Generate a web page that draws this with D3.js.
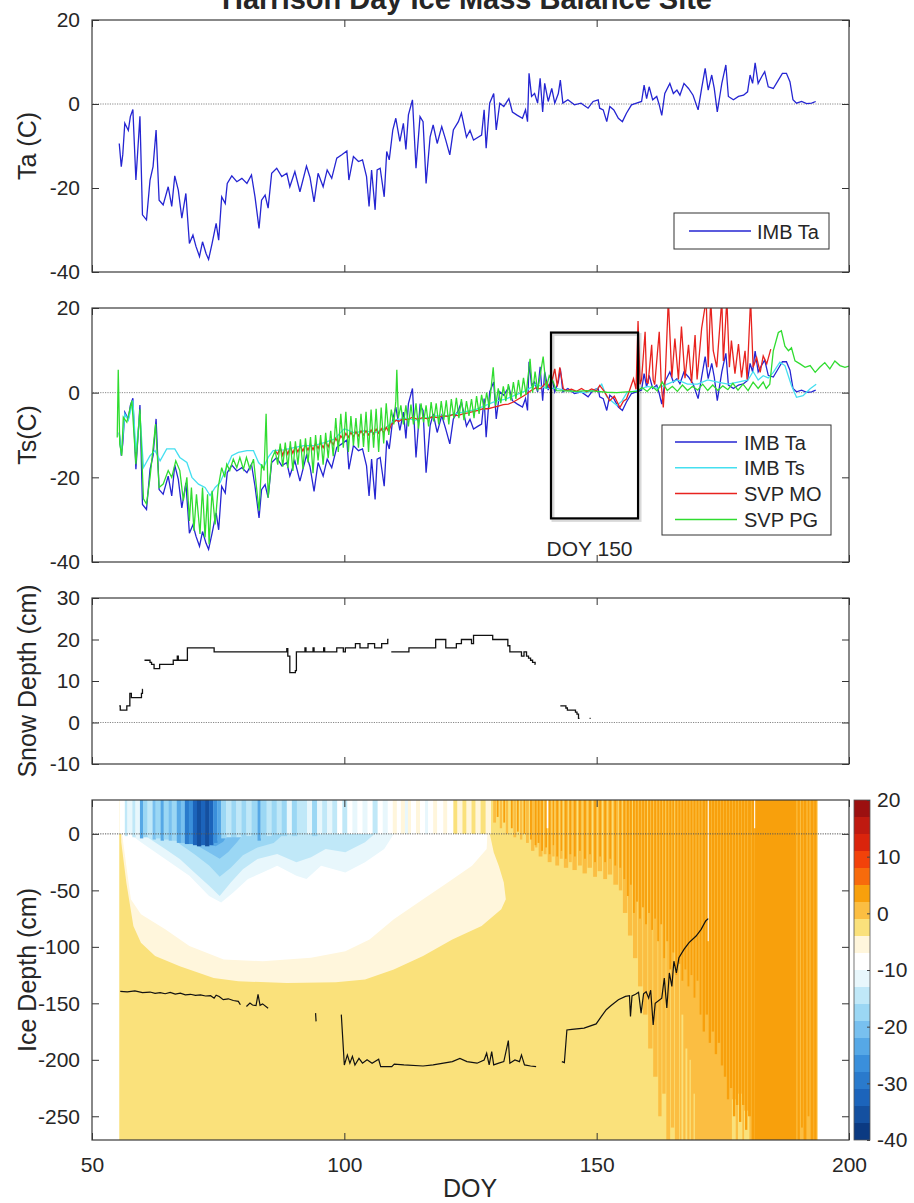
<!DOCTYPE html>
<html><head><meta charset="utf-8">
<script src="https://cdn.jsdelivr.net/npm/d3@7"></script>
<style>
body{margin:0;background:#fff;}
svg text{font-family:"Liberation Sans",Arial,Helvetica,sans-serif;fill:#262626;}
</style></head><body>
<svg id="chart" width="914" height="1203"></svg>
<script>
// ---------------- DATA ----------------
const title = "Harrison Day Ice Mass Balance Site";
const doyTicks = [50,100,150,200];
const taTicks = [-40,-20,0,20];
const snowTicks = [-10,0,10,20,30];
const iceTicks = [-250,-200,-150,-100,-50,0];
const cbTicks = [-40,-30,-20,-10,0,10,20];
const seriesNames = ["IMB Ta","IMB Ts","SVP MO","SVP PG"];
const seriesColors = ["#2525d2","#45dff0","#e8231f","#30dc30"];

// IMB air temperature [DOY, degC]
const imbTa = [[55.4,-9.4],[55.8,-14.9],[56.1,-12],[56.5,-4.6],[57.2,-6.3],[57.6,-3],[58.1,-1.3],[58.7,-18.1],[59.5,-2.9],[60.0,-26.4],[60.8,-27.6],[61.5,-18.1],[62.1,-14.9],[62.7,-6.2],[63.3,-22.9],[64.1,-24.0],[65.1,-19.7],[65.8,-24.4],[66.4,-17.1],[67.1,-20.5],[67.8,-27.2],[68.6,-21.3],[69.3,-33.2],[70.0,-31.2],[70.6,-33.9],[71.3,-36.3],[71.9,-32.8],[72.6,-35.6],[73.1,-37.0],[73.8,-33.2],[74.6,-28.4],[75.1,-32.4],[75.7,-22.1],[76.4,-23.7],[76.8,-18.9],[77.7,-17.1],[78.7,-18.5],[79.7,-17.7],[80.7,-18.9],[81.6,-16.9],[82.3,-22.1],[83.1,-29.6],[83.6,-22.9],[84.3,-21.7],[84.9,-24.8],[85.6,-16.5],[86.6,-15.3],[87.6,-17.3],[88.6,-16.5],[89.2,-19.7],[90.2,-16.1],[91.2,-20.9],[92.5,-14.8],[93.2,-17.5],[94.0,-23.3],[94.8,-16.5],[95.8,-19.7],[96.6,-15.7],[97.5,-17.7],[98.5,-12.9],[99.5,-12.1],[100.5,-11.2],[100.9,-18.1],[101.8,-12.5],[102.8,-13.7],[103.6,-13.3],[104.4,-17.3],[104.9,-24.4],[105.4,-15.7],[106.1,-25.2],[106.5,-15.7],[107.1,-15.3],[107.9,-22.1],[108.4,-11.3],[108.9,-13.3],[109.6,-6.2],[110.2,-3.4],[111.0,-8.9],[111.7,-4.6],[112.2,-10.8],[112.7,-2.6],[113.5,1.0],[114.2,-15.3],[115.0,-3.0],[115.6,-4.2],[116.2,-18.9],[117.0,-7.8],[117.6,-5.0],[118.4,-9.4],[119.3,-5.4],[120.1,-8.6],[120.9,-12.1],[121.6,-6.2],[122.6,-4.2],[123.2,-2.2],[124.2,-7.9],[124.9,-6.3],[125.6,-8.6],[126.5,-7.9],[127.2,-7.4],[127.7,-1.4],[128.1,-10.5],[128.8,0.2],[129.6,2.5],[130.1,-6.2],[130.8,0.2],[131.6,-0.6],[132.6,1.3],[133.3,-1.9],[134.3,-2.7],[135.3,-3.4],[135.9,-1.4],[136.3,-4.2],[136.6,7.3],[137.1,1.8],[137.7,2.5],[138.3,0.2],[138.8,6.1],[139.3,-1.9],[139.7,4.9],[140.4,0.6],[141.1,3.7],[141.7,0.2],[142.4,2.5],[142.8,5.7],[143.3,0.2],[144.3,1.0],[145.6,-0.2],[146.9,0.2],[148.3,-1.0],[149.3,0.6],[150.3,1.0],[150.6,-1.0],[151.3,-1.4],[152.0,-4.2],[152.6,-0.6],[153.4,-1.4],[154.3,-3.4],[155.1,-4.2],[155.9,-2.2],[156.9,-0.2],[157.9,0.2],[158.9,0.6],[159.4,4.5],[159.9,1.3],[160.4,4.1],[161.1,1.0],[161.9,1.8],[162.4,-0.2],[162.9,-2.7],[163.5,2.5],[164.5,4.9],[165.2,2.5],[165.9,3.3],[166.5,2.1],[167.3,4.9],[168.2,3.7],[169.1,2.1],[170.1,-1.4],[170.8,3.7],[171.5,8.5],[172.1,3.3],[172.8,6.9],[173.3,3.7],[173.9,-1.9],[174.8,4.9],[175.6,9.3],[176.1,1.8],[177.1,1.0],[178.1,1.8],[179.1,2.1],[179.9,2.9],[180.4,6.9],[180.9,4.9],[181.4,9.8],[182.0,4.9],[182.7,6.5],[183.3,7.7],[184.0,4.1],[185.0,3.7],[186.0,5.7],[186.8,7.3],[187.6,7.3],[188.3,5.3],[188.9,1.0],[189.6,0.2],[190.6,0.6],[191.6,0.1],[192.6,0.2],[193.4,0.6]];

// IMB surface temperature
const imbTs = [[55.4,-9.6],[55.8,-14.5],[56.5,-5],[57.2,-6.5],[58.1,-1.8],[58.7,-14],[59.5,-5],[60.2,-17.7],[61.5,-14.9],[62.5,-13.7],[63.5,-16.1],[64.8,-13.3],[66.4,-13.3],[67.4,-15.3],[68.8,-16.5],[69.8,-20.0],[71.1,-21.6],[72.4,-22.4],[73.4,-24.3],[74.4,-22.4],[75.4,-21.2],[76.4,-18.4],[77.7,-14.9],[79.0,-14.1],[80.7,-13.7],[82.0,-13.7],[83.0,-16.5],[84.0,-17.7],[84.9,-15.3],[85.9,-13.7],[88,-13.5],[90,-13],[92,-12.5],[94,-12.5],[96,-11.8],[98,-11],[100,-8.5],[102,-9.5],[104,-9],[106,-9.5],[108,-8.5],[110,-6.5],[112,-6],[114,-6.5],[116,-6],[118,-5.5],[120,-5.5],[122,-5],[124,-4.5],[126,-4],[128,-3],[130,-2],[132,-1.5],[134,-0.5],[136,0.5],[138,2],[140,1],[142,1],[144,0.5],[146,0.2],[148,0],[150,0.8],[151,2],[152,-1],[153,-2],[154,-3],[155,-2],[156,0],[158,0.5],[160,1.5],[162,1],[164,2],[166,3],[168,2],[170,2],[172,3],[174,2.5],[176,2],[178,2.5],[180,3],[181,5],[182,3],[183,4],[184,3.5],[185,4.8],[186.3,7.2],[187.3,6.4],[188.6,1.7],[189.6,-1.1],[190.9,-0.7],[192.3,0.9],[193.5,2.0]];

// SVP MO
const svpMO = [[86.3,-13.7],[86.8,-14.5],[87.3,-13],[87.8,-14.8],[88.3,-13],[88.8,-14.5],[89.3,-12.8],[89.8,-14.3],[90.3,-12.7],[90.8,-14],[91.3,-12.6],[91.8,-13.8],[92.3,-12.3],[92.8,-13.6],[93.3,-12.2],[93.8,-13.5],[94.3,-12],[94.8,-13.2],[95.3,-11.8],[95.8,-13],[96.3,-11.6],[96.8,-12.8],[97.3,-11.3],[97.8,-12.3],[98.3,-10.8],[98.8,-11.8],[99.3,-10.2],[99.8,-11],[100.3,-9.6],[100.8,-10.5],[101.3,-9.4],[101.8,-10.4],[102.3,-9.2],[102.8,-10.2],[103.3,-9],[103.8,-10],[104.3,-9],[104.8,-10],[105.3,-8.8],[105.8,-9.8],[106.3,-8.6],[106.8,-9.6],[107.3,-8.5],[107.8,-9.5],[108.3,-8.2],[108.8,-9.2],[109.3,-7.5],[109.8,-7],[110.3,-6.5],[110.8,-6.8],[111.5,-6.2],[112.5,-6.4],[113.5,-5.8],[114.5,-6.3],[115.5,-5.9],[116.5,-6.2],[117.5,-5.7],[118.5,-5.9],[119.5,-5.5],[120.5,-5.6],[121.5,-5.2],[122.5,-5.4],[123.5,-5.0],[124.5,-4.8],[125.5,-4.5],[126.5,-4.2],[127.5,-3.8],[128.5,-3.8],[129.5,-3.5],[130.5,-3.2],[131.5,-2.8],[132.5,-2.7],[133.5,-2.2],[134.5,-1.5],[135.5,-0.8],[136.1,-0.3],[137,0.5],[138,1.2],[138.8,0.9],[140.1,2.5],[140.8,1],[141.7,5.6],[142.2,1.5],[142.7,6.0],[143.4,0.9],[144,0.5],[145,0.8],[146,0.3],[147,1.0],[148,0.2],[149,0.9],[150,0.4],[150.6,1.7],[151.5,0.3],[152.6,-1.9],[153.5,-0.8],[154.6,-3.5],[155.3,-2],[155.9,-1.5],[156.5,0.5],[157.3,3.3],[157.8,0.8],[158.2,16.9],[158.6,2],[158.9,3.1],[159.6,14.4],[159.9,2.5],[160.2,2.3],[160.9,11.3],[161.2,3],[161.5,1.9],[162.4,14.4],[162.8,2],[163.2,-3.5],[163.6,4],[164.2,22],[164.9,3.6],[165.5,12.8],[166.2,3.1],[166.8,15.6],[167.5,3.4],[168.2,11.3],[168.8,2.3],[169.5,13.6],[169.9,3.1],[170.8,15.2],[171.7,22],[172.1,6.0],[172.6,22],[173.1,9.9],[173.8,6.0],[174.8,22],[175.1,7.5],[175.8,22],[176.3,6.0],[176.7,12.3],[177.4,4.5],[178.1,11.5],[178.7,3.6],[179.4,9.9],[179.8,3.1],[180.5,22],[181.0,6.0],[181.7,8.3],[182.4,4.8],[183.0,8.7],[183.7,6.8],[184.5,10.3]];

// SVP PG
const svpPG = [[55.0,-10.6],[55.2,5.4],[55.5,-12.1],[55.9,-14.9],[56.2,-5.8],[56.9,-7.0],[57.9,-1.9],[58.7,-16.9],[59.5,-3.9],[60.2,-25.1],[60.8,-26.3],[61.5,-20.0],[62.6,-7.4],[63.3,-22.4],[64.1,-21.6],[65.1,-18.4],[65.8,-20.0],[66.6,-16.1],[67.4,-18.4],[68.1,-25.5],[68.8,-20.0],[69.3,-30.3],[69.7,-22.4],[70.2,-32.6],[70.7,-24.0],[71.4,-33.4],[71.9,-22.4],[72.4,-34.2],[72.9,-24.0],[73.2,-35.8],[73.8,-23.2],[74.4,-31.1],[75.0,-22.4],[75.7,-17.7],[76.3,-20.0],[76.7,-16.9],[77.3,-18.4],[78.0,-15.7],[78.7,-17.7],[79.3,-15.3],[80.0,-18.1],[80.6,-15.3],[81.3,-18.1],[82.0,-15.7],[82.6,-22.4],[83.1,-27.9],[83.6,-16.9],[84.1,-18.4],[84.5,-5.0],[84.9,-24.8],[85.6,-15.7],[86.3,-13.7],[86.8,-17],[87.3,-12],[87.8,-17.5],[88.3,-11.8],[88.8,-17.8],[89.3,-11.5],[89.8,-18.5],[90.3,-11.5],[90.8,-17],[91.3,-11],[91.8,-18],[92.3,-10.8],[92.8,-16.5],[93.3,-10.5],[93.8,-19],[94.3,-10],[94.8,-16],[95.3,-10],[95.8,-17],[96.3,-9.5],[96.8,-15.5],[97.3,-9],[97.8,-15],[98.3,-6],[98.8,-14],[99.3,-5],[99.8,-13],[100.3,-4.5],[100.8,-14],[101.3,-5.5],[101.8,-12.5],[102.3,-6],[102.8,-13],[103.3,-5],[103.8,-12.8],[104.3,-4.5],[104.8,-14],[105.3,-4],[105.8,-13],[106.3,-3.8],[106.8,-14],[107.3,-3.5],[107.8,-12],[108.3,-2.5],[108.8,-10],[109.3,-4],[109.8,-7.5],[110.2,-2],[110.4,5.4],[110.7,-6],[111.2,-3],[111.7,-7.5],[112.2,-3],[112.7,-8],[113.2,-2.8],[113.7,-7.5],[114.2,-2.5],[114.7,-8.5],[115.2,-2.5],[115.7,-7],[116.2,-3],[116.7,-8],[117.2,-2.2],[117.7,-6.8],[118.2,-2.5],[118.7,-7.5],[119.2,-2],[119.7,-6.5],[120.2,-1.8],[120.7,-7.5],[121.2,-1.5],[121.7,-6],[122.2,-1.2],[122.7,-6],[123.2,-1.5],[123.7,-6.5],[124.2,-2],[124.7,-5.5],[125.2,-1.5],[125.7,-6],[126.2,-0.8],[126.7,-5],[127.2,-0.5],[127.7,-4],[128.2,0],[128.7,-3.5],[129.5,6.0],[130,-3],[130.5,1],[131,-2.5],[131.5,1.5],[132,-2],[132.5,2],[133,-1.8],[133.5,2.5],[134,-1.5],[134.5,3],[135,-1],[135.5,3.5],[136,-0.5],[136.8,8.0],[137.3,0],[137.8,5],[138.3,0.5],[138.8,4],[139.4,8.5],[140,1],[140.6,4],[141.4,2.5],[142,0.5],[144,0.4],[146,0.3],[148,0.5],[150,0.3],[152,0.1],[154,0],[156,0.2],[158,0.3],[159,1.2],[160,0.3],[161,1.5],[162,0.4],[163,2.5],[164,0.5],[165,1.5],[166,0.3],[167,1.8],[168,0.5],[169,1.5],[170,0.6],[171,2],[172,0.5],[173,1.8],[174,0.5],[175,1.6],[176,0.7],[177,2.2],[178,0.6],[179,2.0],[180,0.5],[181,2.5],[182,1.0],[183,2.5],[183.6,1.0],[184.3,2.0],[185.0,9.9],[186.0,14.2],[186.6,14.6],[187.3,11.0],[188.0,9.9],[188.6,10.6],[189.3,7.5],[190.3,6.8],[191.3,6.0],[192.3,6.4],[193.3,4.8],[194.2,6.0],[195.2,7.1],[196.2,5.6],[197.2,7.5],[198.2,6.4],[199.2,6.0],[200,6.3]];

// DOY 150 annotation box [doy0, doy1, tTop, tBottom]
const annotBox = [140.95, 158.2, 14.2, -29.7];
const annotLabel = "DOY 150";

// snow depth [DOY, cm], null = gap
const snowDepth = [[55.4,4],[55.6,3],[56.9,4],[57.5,7],[57.8,6],[59.8,7],[60.0,8],[60.05,8],null,
[60.4,15],[61.5,14.5],[61.8,14],[62.3,13],[63.4,14],[66.1,15],[66.9,16],[67.1,15],[68.9,18],[74.2,17],[88.4,17],[88.6,17.8],[88.8,16],[89.2,12],[90.3,12.5],[90.5,17],[92.2,18],[92.4,17],[93.8,18],[94.0,17],[95.9,18],[96.1,17],[98.5,18],[99.8,17],[100.2,18],[102.2,19],[103.1,18],[104.7,19],[106.0,18],[107.4,19],[108.6,20],[108.75,20],null,
[109.3,17],[112.8,18],[118.1,20],[120.1,18],[122.2,19],[123.2,20],[125.2,19],[125.6,21],[129.4,20],[132.4,18.5],[132.8,17],[135.1,16],[135.6,17],[136.1,16],[136.5,15.5],[136.9,15],[137.3,14.5],[137.8,14],[137.85,14],null,
[142.8,4],[143.9,3.5],[144.2,3],[145.8,2.5],[146.1,2],[146.4,1],[146.6,1],null,
[148.6,1],[148.8,1]];

// ice bottom line [DOY, cm]
const iceBottom = [[55.6,-139.4],[57,-139.8],[58.5,-139],[60,-140.5],[61.5,-140],[62.5,-141.2],[63.5,-140.6],[64.5,-141.5],[65.5,-140.3],[66.5,-141.8],[67.5,-141],[68.5,-142.5],[69.5,-142],[70.5,-143],[71.5,-142.6],[72.5,-143.5],[73.5,-143.2],[74.2,-145.4],[74.6,-142.8],[75.2,-144],[76,-146.8],[77,-146],[78,-147.5],[79,-148.3],[79.4,-151.3],null,
[80.6,-152.8],[81.3,-149.8],[81.8,-151.5],[82.5,-152],[82.9,-142],[83.3,-151.8],[83.8,-150.5],[84.9,-154.3],null,
[94.3,-158.7],[94.4,-166],null,
[99.4,-160],[100.0,-204.6],[100.6,-195.7],[101.1,-203],[101.6,-197],[102.1,-204.6],[102.9,-198.7],[103.6,-203],[104.5,-200],[105.5,-203],[106.8,-199.5],[107.2,-206],[109.4,-206],[109.9,-203.8],[111.8,-204.5],[115.6,-205.5],[117.6,-204.5],[121.4,-201.6],[122.9,-198.7],[124.3,-201.6],[126.3,-203],[127.7,-200.2],[128.2,-194.2],[128.7,-204.5],[129.2,-192.8],[129.6,-204.5],[130.6,-203],[131.6,-201.6],[132.5,-183],[132.8,-203],[133.8,-200.2],[134.7,-201.6],[135.1,-195.7],[135.7,-204.5],[136.9,-205.5],[138.0,-206],null,
[143.1,-201.6],[143.6,-202.5],[144.1,-173.6],[145.1,-173],[147.5,-172],[149.9,-168.2],[150.9,-161.7],[151.9,-155.7],[152.8,-152.2],[154.3,-146.8],[155.7,-143.9],[156.5,-143.3],[156.7,-161.7],[157.0,-143.5],[157.7,-142],[158.3,-140.3],[158.8,-158.7],[159.3,-141.5],[159.8,-139.8],[160.3,-145.4],[160.7,-138.4],[161.2,-169.1],[161.6,-150],[162.9,-145.4],[163.4,-127.6],[163.9,-154.2],[164.4,-123.1],[164.9,-135],[165.3,-112.7],[165.8,-123],[166.3,-109.7],[167.3,-102.3],[168.3,-96.3],[169.7,-90.4],[170.7,-84.5],[171.6,-77.1],[172.1,-75]];

// colour scale: band edges (degC) and band colours
const levelEdges = [-40,-37,-34,-31,-28,-25,-22,-19,-16,-13,-10,-7,-4,-1,2,5,8,11,14,17,20];
const levelColors = ["#0b3a82","#1450a0","#1c64bb","#2a7acc","#3a8fdb","#56a8e6","#78c0ef","#9bd7f4","#c0e8f8","#e8f7fc","#ffffff","#fff6dc","#fae17b","#fbbe42","#f8a00c","#f76b0c","#f2420a","#da240c","#bf1a10","#9c1010"];

// ice temperature field
const iceDoyRange = [55.4, 193.7];
const iceBaseTemp = -2.5;
// nested cold-region contours: temperature, boundary [DOY, depth]
const coldContours = [
 {t:-5.5, pts:[[55.6,30],[55.8,-7.4],[56.8,-43],[58.2,-81.5],[59.7,-96.4],[62.5,-108.2],[67.4,-117.1],[74.1,-127.5],[79,-130.5],[88.6,-132],[98.3,-131.4],[104.1,-129],[109.8,-120],[115.6,-108.2],[121.4,-93.4],[127.2,-81.5],[131.1,-66.7],[132,-57.8],[131.6,-43],[130.6,-28.2],[129.6,-16.3],[128.9,-1.5],[128.9,30]]},
 {t:-8.5, pts:[[56.0,30],[56.0,-1.5],[56.8,-28.2],[57.7,-57.8],[59.7,-71.2],[64.5,-84.5],[69.3,-99.3],[76.1,-111.2],[83.8,-112.7],[93.4,-109.7],[100.2,-103.8],[105,-93.4],[109.8,-75.6],[115.6,-57.8],[120.5,-43],[125.3,-28.2],[128.2,-13.3],[128.7,30]]},
 {t:-11.5, pts:[[57.5,0],[59.7,-7.4],[64.5,-22.2],[69.3,-37.1],[73.2,-55],[75.6,-60.8],[78,-51.9],[80.9,-40],[83.8,-34.1],[86.7,-28.2],[90.5,-37.1],[92.5,-40],[95.4,-28.2],[100.2,-34.1],[104.1,-25.2],[107.9,-13.3],[109.8,0]]},
 {t:-14.5, pts:[[60,0],[64.5,-13.3],[67.4,-22.2],[70.3,-34.1],[73.2,-46],[75.3,-55],[77.5,-43],[79.9,-31.2],[82.8,-22.2],[86.7,-17.8],[90.5,-25.2],[93.4,-20.7],[96.3,-13.3],[100.2,-16.3],[104.1,-7.4],[106,0]]},
 {t:-17.5, pts:[[65.5,0],[67.4,-9],[70.3,-18],[73.2,-28],[75.3,-38],[77.5,-30],[79.9,-19],[82.8,-12],[86,-8],[88,0]]},
 {t:-20.5, pts:[[67,0],[69,-6],[71.5,-12],[73.8,-18],[75.3,-22],[77,-16],[78.8,-7],[80,0]]},
 {t:-23.5, pts:[[68,0],[70,-4],[72.5,-9],[74.5,-11],[76,-7],[77,0]]},
 {t:-26.5, pts:[[69,0],[71,-3],[73,-6],[75,-4],[76,0]]}
];
// near-surface stripes: [doyStart, doyEnd, bottomDepth, temperature]
const surfaceStripes = [[55.4,56.5,0,-9],[56.5,57.0,-2,-14],[57.0,58.0,0,-11],[58.0,58.6,-3,-16],[58.6,59.5,-1,-12],[59.5,60.1,-4,-24],[60.1,61.0,-3,-17],[61.0,62.0,-2,-14],[62.0,62.6,-5,-22],[62.6,63.6,-4,-17],[63.6,64.2,-6,-24],[64.2,65.2,-5,-18],[65.2,65.8,-6,-22],[65.8,66.8,-6,-18],[66.8,67.6,-8,-24],[67.6,68.4,-8,-22],[68.4,69.2,-9,-29],[69.2,70.0,-9,-27],[70.0,70.8,-10,-33],[70.8,71.6,-11,-37],[71.6,72.4,-10,-33],[72.4,73.2,-11,-37],[73.2,74.0,-10,-32],[74.0,74.8,-8,-28],[74.8,75.6,-6,-25],[75.6,76.6,-4,-19],[76.6,77.6,-3,-16],[77.6,78.6,-3,-18],[78.6,79.6,-3,-15],[79.6,80.6,-2,-18],[80.6,81.6,-2,-15],[81.6,82.8,-3,-17],[82.8,83.4,-6,-25],[83.4,84.6,-4,-18],[84.6,85.6,-2,-15],[85.6,86.6,-2,-17],[86.6,87.6,0,-14],[87.6,88.6,-2,-18],[88.6,89.6,0,-13],[89.6,90.6,-2,-17],[90.6,91.6,0,-14],[91.6,92.6,-2,-16],[92.6,93.6,0,-13],[93.6,94.6,-2,-18],[94.6,95.6,0,-12],[95.6,96.6,0,-16],[96.6,97.6,0,-11],[97.6,98.6,0,-15],[98.6,99.6,0,-10],[99.6,100.6,0,-14],[100.6,101.6,0,-9],[101.6,102.6,0,-13],[102.6,103.6,0,-9],[103.6,104.6,0,-12],[104.6,105.6,0,-9],[105.6,106.6,0,-14],[106.6,107.6,0,-9],[107.6,108.6,0,-12],[108.6,109.6,0,-8],[109.6,110.4,0,-6],[110.4,111.2,0,-9],[111.2,112.0,0,-6],[112.0,112.6,0,-11],[112.6,113.2,0,-5],[113.2,114.2,0,-9],[114.2,115.0,0,-6],[115.0,116.0,0,-8],[116.0,116.6,0,-12],[116.6,117.6,0,-8],[117.6,118.4,0,-5],[118.4,119.6,0,-8],[119.6,120.4,0,-5],[120.4,121.6,0,-9],[121.6,122.4,0,-3],[122.4,123.4,0,-6],[123.4,124.2,0,-2],[124.2,125.2,0,-7],[125.2,126.0,0,-3],[126.0,127.0,0,-6],[127.0,128.0,0,-2],[128.0,129.0,0,-5]];
// warm streaks from the top: [doyStart, doyEnd, bottomDepth]
const lightOrangeStreaks = [[129.5,130.0,10],[130.8,131.2,5],[132,132.4,0],[133.5,134,-3],[134.8,135.2,-5],[136,136.5,-8],[137,137.6,-15],[137.8,138.2,-12],[138.5,139.2,-20],[139.5,140,-18],[140.3,141,-25],[141.2,141.6,-20],[141.8,142.5,-28],[142.7,143.2,-22],[143.5,144.3,-30],[144.5,145,-25],[145.2,146,-32],[146.3,147,-28],[147.2,148,-35],[148.2,149,-30],[149.3,150,-38],[150.2,151,-33],[151.3,152,-40],[152.2,153,-36],[153.3,154.2,-45],[154.4,155,-50],[155.2,156,-70],[156.2,157,-90],[157.2,158,-110],[158.2,159,-135],[159.2,160,-160],[160.2,161,-190],[161.2,162,-215],[162.2,162.8,-250],[163,163.6,-230],[163.8,164.5,-271],[164.7,165.3,-260],[165.5,166.3,-271],[166.5,193.7,-271]];
// yellow streaks inside the light-orange area: [doyStart, doyEnd, topDepth]
const yellowStreaks = [[166.8,167.1,-160],[167.6,167.9,-190],[168.4,168.6,-200],[169.2,169.4,-230],[176.8,177.5,-235],[178,178.8,-230],[179.2,180.2,-245]];
const orangeStreaks = [[130.2,130.5,15],[131.5,131.8,10],[133,133.3,5],[134.2,134.5,2],[135.5,135.8,0],[136.8,137.1,-5],[137.7,138,-10],[138.3,138.6,-8],[139,139.3,-15],[139.8,140.1,-12],[140.5,140.8,-18],[141.3,141.5,-10],[142,142.3,-20],[142.9,143.1,-15],[143.7,144,-22],[144.6,144.9,-18],[145.5,145.8,-20],[146.5,146.8,-15],[147.5,147.8,-22],[148.5,148.8,-18],[149.5,149.8,-25],[150.5,150.8,-20],[151.5,151.8,-25],[152.5,152.8,-22],[153.5,153.8,-28],[154.5,154.8,-30],[155.3,155.6,-40],[156,156.3,-55],[156.6,156.9,-45],[157.2,157.5,-70],[157.8,158.1,-60],[158.4,158.7,-75],[159,159.3,-65],[159.6,159.9,-80],[160.2,160.5,-70],[160.8,161.1,-85],[161.4,161.7,-75],[162,162.3,-95],[162.6,162.9,-80],[163.2,163.5,-110],[163.8,164.1,-95],[164.4,164.7,-120],[165,165.3,-105],[165.6,165.9,-125],[166.2,166.5,-115],[166.8,167.1,-130],[167.4,167.7,-120],[168,168.3,-135],[168.6,168.9,-125],[169.2,169.5,-145],[169.8,170.1,-130],[170.4,170.7,-160],[171,171.4,-175],[171.6,172,-160],[172.2,172.6,-185],[172.8,173.2,-175],[173.4,173.8,-195],[174,174.4,-185],[174.6,175,-205],[175.2,175.6,-215],[175.8,176.2,-235],[176.4,176.8,-225],[177,177.4,-250],[177.6,178,-240],[178.2,178.6,-255],[178.8,179.2,-240],[179.4,179.8,-262],[180,180.5,-250],[180.7,181.2,-271],[181.3,189.5,-271],[189.8,190.2,-271],[190.5,190.8,-260],[191,191.5,-271],[191.8,192.1,-250],[192.4,192.9,-271],[193.1,193.5,-271]];
const whiteStreaks = [[140.1,140.35,5],[172.0,172.15,-95],[181.2,181.35,5]];

// ---------------- DRAWING ----------------
const svg = d3.select("#chart");
const L = 92, R = 849;
const x = d3.scaleLinear().domain([50,200]).range([L,R]);
const yTa = d3.scaleLinear().domain([-40,20]).range([272,20]);
const yTs = d3.scaleLinear().domain([-40,20]).range([562,308]);
const ySn = d3.scaleLinear().domain([-10,30]).range([764,598]);
const yIce = d3.scaleLinear().domain([-271,30]).range([1140,800]);
const cbY = d3.scaleLinear().domain([-40,20]).range([1140,800]);
const tempColor = d3.scaleThreshold().domain(levelEdges.slice(1,-1)).range(levelColors);
const fmt = d => String(d);   // plain hyphen minus, as in the original

const defs = svg.append("defs");
function clip(id, y){
  const [b,t] = y.range();
  defs.append("clipPath").attr("id",id).append("rect").attr("x",L).attr("y",t).attr("width",R-L).attr("height",b-t);
}
clip("c1",yTa); clip("c2",yTs); clip("c3",ySn); clip("c4",yIce);

const tickStyle = s => { s.select(".domain").remove(); s.selectAll("line").attr("stroke","#333").attr("stroke-width",1);
   s.selectAll("text").attr("font-size",21).attr("font-family","Liberation Sans,Arial,sans-serif").attr("fill","#262626"); };
function frame(y, yTicks, xLabels){
  const [b,t] = y.range();
  const g = svg.append("g");
  g.append("g").attr("transform",`translate(${L},0)`).call(d3.axisLeft(y).tickValues(yTicks).tickSizeInner(-7).tickSizeOuter(0).tickPadding(12).tickFormat(fmt)).call(tickStyle);
  g.append("g").attr("transform",`translate(${R},0)`).call(d3.axisRight(y).tickValues(yTicks).tickSizeInner(-7).tickSizeOuter(0).tickFormat("")).call(tickStyle);
  g.append("g").attr("transform",`translate(0,${t})`).call(d3.axisTop(x).tickValues(doyTicks).tickSizeInner(-7).tickSizeOuter(0).tickFormat("")).call(tickStyle);
  g.append("g").attr("transform",`translate(0,${b})`).call(d3.axisBottom(x).tickValues(doyTicks).tickSizeInner(-7).tickSizeOuter(0).tickPadding(17).tickFormat(xLabels ? fmt : "")).call(tickStyle);
  g.append("rect").attr("x",L).attr("y",t).attr("width",R-L).attr("height",b-t).attr("fill","none").attr("stroke","#3a3a3a").attr("stroke-width",1.2);
}
function zeroLine(y, color){
  svg.append("line").attr("x1",L+1).attr("x2",R-1).attr("y1",y(0)).attr("y2",y(0))
    .attr("stroke",color).attr("stroke-width",1).attr("stroke-dasharray","1.2,1.2");
}
function yLabel(txt, y){
  const [b,t] = y.range();
  svg.append("text").attr("transform",`translate(36,${(b+t)/2}) rotate(-90)`).attr("text-anchor","middle")
    .attr("font-size",25).text(txt);
}
const lineGen = y => d3.line().defined(d => d !== null).x(d => x(d[0])).y(d => y(d[1]));

// title (top of it is outside the picture in the original as well)
svg.append("text").attr("x",467).attr("y",9).attr("text-anchor","middle").attr("font-size",29).attr("font-weight","bold").attr("fill","#111").text(title);

// ---- Panel 1: Ta
zeroLine(yTa,"#888");
svg.append("path").datum(imbTa).attr("clip-path","url(#c1)").attr("d",lineGen(yTa)).attr("fill","none").attr("stroke",seriesColors[0]).attr("stroke-width",1.3);
frame(yTa, taTicks, false);
yLabel("Ta (C)", yTa);
{ const lg = svg.append("g");
  lg.append("rect").attr("x",674).attr("y",213).attr("width",155).attr("height",36).attr("fill","#fff").attr("stroke","#333").attr("stroke-width",1);
  lg.append("line").attr("x1",689).attr("x2",751).attr("y1",231).attr("y2",231).attr("stroke",seriesColors[0]).attr("stroke-width",1.5);
  lg.append("text").attr("x",757).attr("y",238.5).attr("font-size",20).text(seriesNames[0]);
}

// ---- Panel 2: Ts
zeroLine(yTs,"#888");
const p2 = svg.append("g").attr("clip-path","url(#c2)");
[imbTa, imbTs, svpMO, svpPG].forEach((s,i) => {
  p2.append("path").datum(s).attr("d",lineGen(yTs)).attr("fill","none").attr("stroke",seriesColors[i]).attr("stroke-width",1.3);
});
frame(yTs, taTicks, false);
yLabel("Ts(C)", yTs);
svg.append("rect").attr("x",x(annotBox[0])+2).attr("y",yTs(annotBox[2])+2).attr("width",x(annotBox[1])-x(annotBox[0])).attr("height",yTs(annotBox[3])-yTs(annotBox[2]))
  .attr("fill","none").attr("stroke","#000").attr("stroke-opacity",0.15).attr("stroke-width",3);
svg.append("rect").attr("x",x(annotBox[0])).attr("y",yTs(annotBox[2])).attr("width",x(annotBox[1])-x(annotBox[0])).attr("height",yTs(annotBox[3])-yTs(annotBox[2]))
  .attr("fill","none").attr("stroke","#000").attr("stroke-width",2.2);
svg.append("text").attr("x",(x(annotBox[0])+x(annotBox[1]))/2 - 5).attr("y",556).attr("text-anchor","middle").attr("font-size",21)
  .attr("font-family","Open Sans, sans-serif").attr("fill","#000").text(annotLabel);
{ const lg = svg.append("g");
  lg.append("rect").attr("x",662).attr("y",425).attr("width",169).attr("height",110).attr("fill","#fff").attr("stroke","#333").attr("stroke-width",1);
  seriesNames.forEach((n,i) => {
    const cy = 442 + i*25.8;
    lg.append("line").attr("x1",675).attr("x2",737).attr("y1",cy).attr("y2",cy).attr("stroke",seriesColors[i]).attr("stroke-width",1.5);
    lg.append("text").attr("x",744).attr("y",cy+7.5).attr("font-size",20).text(n);
  });
}

// ---- Panel 3: snow depth
zeroLine(ySn,"#888");
svg.append("path").datum(snowDepth).attr("clip-path","url(#c3)").attr("d",lineGen(ySn).curve(d3.curveStepAfter)).attr("fill","none").attr("stroke","#111").attr("stroke-width",1.3);
frame(ySn, snowTicks, false);
yLabel("Snow Depth (cm)", ySn);

// ---- Panel 4: ice temperature
const hm = svg.append("g").attr("clip-path","url(#c4)");
hm.append("rect").attr("x",x(iceDoyRange[0])).attr("width",x(iceDoyRange[1])-x(iceDoyRange[0])).attr("y",yIce(30)).attr("height",yIce(-271)-yIce(30)).attr("fill",tempColor(iceBaseTemp));
coldContours.forEach(c => {
  hm.append("path").attr("d", lineGen(yIce)(c.pts)+"Z").attr("fill",tempColor(c.t));
});
function streaks(arr, tFn, fromTop){
  hm.append("g").selectAll("rect").data(arr).join("rect")
    .attr("x",d => x(d[0])).attr("width",d => Math.max(0.6, x(d[1])-x(d[0])+0.3))
    .attr("y",d => fromTop ? yIce(30) : yIce(d[2]))
    .attr("height",d => fromTop ? yIce(d[2]) - yIce(30) : yIce(-271) - yIce(d[2]))
    .attr("fill",d => tempColor(tFn(d)));
}
streaks(surfaceStripes, d => d[3], true);
streaks(lightOrangeStreaks, d => 0.5, true);
streaks(yellowStreaks, d => iceBaseTemp, false);
streaks(orangeStreaks, d => 3.5, true);
streaks(whiteStreaks, d => -8.5, true);
zeroLine(yIce,"#555");
svg.append("path").datum(iceBottom).attr("clip-path","url(#c4)").attr("d",lineGen(yIce)).attr("fill","none").attr("stroke","#111").attr("stroke-width",1.2);
frame(yIce, iceTicks, true);
yLabel("Ice Depth (cm)", yIce);
svg.append("text").attr("x",470).attr("y",1197).attr("text-anchor","middle").attr("font-size",25).text("DOY");

// colorbar
const cb = svg.append("g");
cb.selectAll("rect").data(d3.range(levelColors.length)).join("rect")
  .attr("x",854).attr("width",16)
  .attr("y",i => cbY(levelEdges[i+1])).attr("height",i => cbY(levelEdges[i]) - cbY(levelEdges[i+1]))
  .attr("fill",i => levelColors[i]);
cb.append("rect").attr("x",854).attr("y",800).attr("width",16).attr("height",340).attr("fill","none").attr("stroke","#555").attr("stroke-width",0.8);
cb.append("g").attr("transform","translate(870,0)")
  .call(d3.axisRight(cbY).tickValues(cbTicks).tickSizeInner(-3).tickSizeOuter(0).tickPadding(7).tickFormat(fmt))
  .call(s => { s.select(".domain").remove(); s.selectAll("line").attr("stroke","#444");
     s.selectAll("text").attr("font-size",21).attr("font-family","Liberation Sans,Arial,sans-serif").attr("fill","#262626"); });
</script>
</body></html>
